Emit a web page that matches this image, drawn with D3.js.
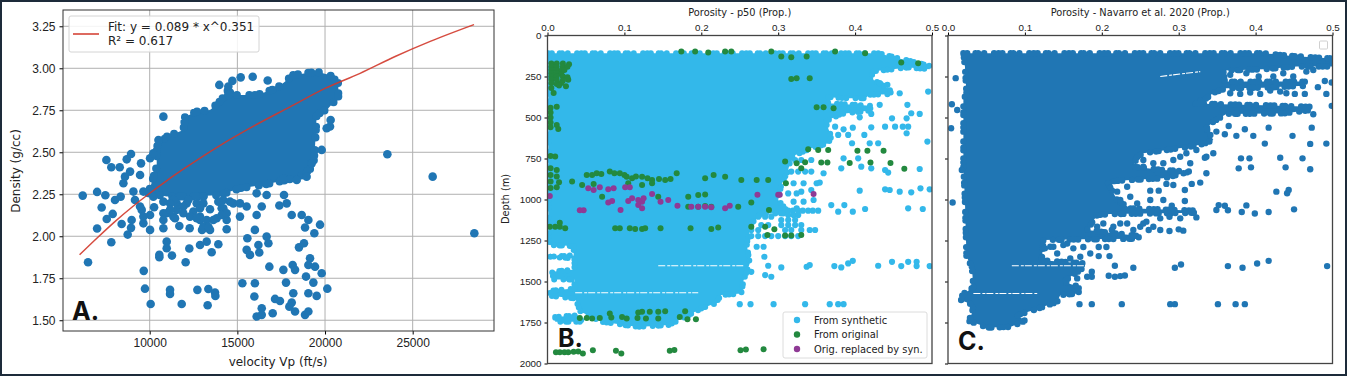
<!DOCTYPE html>
<html>
<head>
<meta charset="utf-8">
<script src="https://cdn.jsdelivr.net/npm/d3@7"></script>
<style>
  html, body { margin: 0; padding: 0; background: #fff; }
  svg { display: block; font-family: "DejaVu Sans", sans-serif; }
  .tick text { fill: #222; }
</style>
</head>
<body>
<div id="chart"></div>
<script>
// ----- Panel A data: [Vp ft/s, density g/cc] -----
const ticksVp = [10000, 15000, 20000, 25000];
const ticksRho = [1.5, 1.75, 2.0, 2.25, 2.5, 2.75, 3.0, 3.25];
const fitVp  = [6000, 7000, 8000, 9000, 10000, 11000, 12000, 14000, 16000, 18000, 20000, 22000, 24000, 26000, 28500];
const fitRho = [1.89, 1.99, 2.086, 2.174, 2.256, 2.333, 2.405, 2.54, 2.66, 2.77, 2.88, 2.97, 3.07, 3.16, 3.26];

// outer edge of the solid part of the cloud, single points are too merged to read there
const cloudA = [[9924,2.256],[10400,2.415],[10400,2.534],[10970,2.593],[11920,2.633],[12015,2.712],[12680,2.742],[13440,2.752],[14105,2.811],[14390,2.871],[14770,2.841],[16100,2.841],[17240,2.881],[18190,2.960],[19525,2.980],[20285,2.960],[20760,2.911],[20760,2.831],[20190,2.762],[19525,2.722],[19430,2.534],[19335,2.415],[18575,2.355],[17815,2.335],[16480,2.306],[15150,2.286],[14010,2.246],[12490,2.236],[10970,2.236]];

const pointsA = [[23555,2.488],[26140,2.355],[28516,2.018],[6180,2.242],[6483,1.845],[7000,2.264],[7470,2.244],[7530,2.454],[7810,2.411],[8290,2.411],[7260,2.171],[7550,2.103],[7890,2.133],[7000,2.046],[7810,1.964],[8400,2.073],[8745,2.01],[8935,2.05],[8970,2.097],[8690,2.458],[8935,2.49],[9505,2.434],[10020,2.464],[10210,2.494],[8590,2.355],[8500,2.316],[8880,2.385],[9450,2.365],[9070,2.266],[9640,2.266],[8020,2.216],[8345,2.236],[9160,2.216],[9545,2.157],[9640,2.077],[10020,2.038],[10020,2.127],[10250,2.173],[10780,2.137],[10780,2.048],[10970,1.968],[10970,1.929],[10550,1.889],[10550,1.875],[11270,1.885],[9660,1.794],[9730,1.688],[10055,1.597],[11160,1.681],[11160,1.657],[11825,1.597],[12050,1.845],[12260,1.927],[11690,2.061],[12280,2.048],[11350,2.117],[11920,2.137],[11540,2.196],[12870,2.117],[12985,2.038],[13440,2.038],[13440,2.161],[13820,2.107],[14390,2.042],[14390,2.097],[14105,2.167],[12870,1.948],[13250,1.968],[13535,1.905],[13915,1.952],[12720,1.681],[13345,1.686],[13725,1.665],[13745,1.645],[13305,1.589],[15285,1.72],[16000,1.72],[15970,1.641],[16390,1.571],[16100,1.522],[16390,1.532],[17015,1.542],[17150,1.627],[17430,1.615],[18100,1.605],[17965,1.581],[18290,1.552],[18860,1.532],[19050,1.552],[18190,1.661],[17775,1.724],[16825,1.819],[17625,1.8],[18155,1.829],[18290,1.8],[18915,1.76],[19335,1.724],[19050,1.661],[19525,1.645],[19810,1.78],[20130,1.688],[19145,1.869],[19050,1.829],[19430,1.819],[18515,1.934],[18800,1.958],[19390,2.018],[19715,2.069],[18860,2.052],[19050,2.097],[18670,2.127],[18100,2.127],[17395,2.183],[17815,2.196],[17660,2.246],[16100,2.256],[16670,2.246],[16390,2.177],[16100,2.127],[15530,2.177],[15150,2.117],[14770,2.196],[16000,2.038],[15570,1.988],[15530,1.919],[15720,1.889],[16250,1.903],[16670,1.998],[16770,1.958],[16200,1.948],[10780,2.712],[13970,2.901],[14485,2.891],[14715,2.925],[15190,2.946],[15875,2.95],[16730,2.927],[14485,2.841],[20285,2.653],[20095,2.643],[20320,2.692],[19810,2.514],[19240,2.434],[18950,2.355],[18385,2.335],[17625,2.345],[10500,2.573],[11350,2.216],[12110,2.196],[12680,2.196],[13060,2.236],[14200,2.216],
  [11160,2.196],[11540,2.157],[11920,2.177],[12205,2.216],[13060,2.196],[12490,2.147],[12870,2.167],[13915,2.206],[14200,2.167],[14580,2.206],[15150,2.196],[10780,2.206],[10210,2.236],[12870,2.097],[10970,2.137],
  [9450,2.177],[9640,2.117],[10780,2.097],[11160,2.157],[11445,2.107],[12300,2.117],[12680,2.107],[13250,2.097],[13630,2.097],[14105,2.127],[14390,2.137],[13060,2.057],[13345,2.057]];

// ----- Panel B data: [porosity, depth m] -----
const ticksPor = [0, 0.1, 0.2, 0.3, 0.4, 0.5];
const ticksDepth = [0, 250, 500, 750, 1000, 1250, 1500, 1750, 2000];

const cloudB = [[0.001,108],[0.430,108],[0.456,138],[0.497,185],[0.497,206],[0.470,195],[0.421,220],[0.424,271],[0.445,328],[0.447,358],[0.419,362],[0.413,383],[0.387,383],[0.365,376],[0.365,413],[0.421,429],[0.419,458],[0.382,478],[0.361,525],[0.365,566],[0.369,617],[0.365,657],[0.343,688],[0.317,739],[0.313,820],[0.304,912],[0.300,1003],[0.309,1054],[0.311,1085],[0.278,1085],[0.265,1146],[0.261,1237],[0.259,1268],[0.263,1390],[0.255,1492],[0.252,1573],[0.226,1583],[0.218,1634],[0.200,1665],[0.175,1726],[0.157,1766],[0.118,1777],[0.071,1746],[0.043,1685],[0.036,1604],[0.006,1589],[0.001,1557],[0.035,1543],[0.035,1488],[0.008,1488],[0.006,1441],[0.035,1427],[0.035,1359],[0.001,1349],[0.034,1341],[0.034,1284],[0.001,1278]];
const cloudB2 = [[0.010,1716],[0.040,1706],[0.045,1746],[0.010,1746]];
const gapsB = [[[0.144,1404],[0.257,1404]],[[0.036,1569],[0.196,1569]]];

const syntheticB = [[0.495,342],[0.432,291],[0.442,301],[0.458,352],[0.432,423],[0.468,423],[0.473,474],[0.484,478],[0.467,505],[0.448,505],[0.421,478],[0.406,499],[0.374,556],[0.385,572],[0.397,562],[0.421,560],[0.439,556],[0.452,556],[0.462,556],[0.469,556],[0.467,596],[0.412,606],[0.391,606],[0.378,606],[0.396,657],[0.419,657],[0.430,657],[0.494,647],[0.385,749],[0.404,749],[0.408,800],[0.421,810],[0.382,810],[0.439,820],[0.443,836],[0.484,814],[0.359,840],[0.350,901],[0.354,897],[0.406,946],[0.439,938],[0.445,942],[0.458,952],[0.473,956],[0.485,932],[0.497,938],[0.330,952],[0.343,942],[0.320,1013],[0.333,1013],[0.346,1003],[0.324,1054],[0.369,1034],[0.386,1034],[0.378,1074],[0.397,1074],[0.413,1058],[0.469,1054],[0.488,1058],[0.272,1288],[0.281,1288],[0.282,1349],[0.287,1404],[0.304,1414],[0.337,1410],[0.341,1400],[0.373,1406],[0.382,1414],[0.391,1390],[0.397,1374],[0.430,1404],[0.448,1380],[0.460,1406],[0.469,1380],[0.480,1380],[0.480,1406],[0.497,1406],[0.265,1441],[0.283,1461],[0.291,1471],[0.250,1638],[0.264,1638],[0.294,1638],[0.335,1638],[0.367,1638],[0.378,1638],[0.385,1638],
  // rows around 1050-1250 m and the patches under the edge at 750-950 m
  [0.313,1068],[0.319,1068],[0.326,1068],[0.332,1068],[0.339,1068],[0.345,1068],[0.352,1068],[0.313,1095],[0.320,1095],[0.326,1095],[0.304,1125],[0.313,1125],[0.322,1125],[0.278,1156],[0.287,1156],[0.304,1156],[0.313,1156],[0.322,1156],[0.330,1156],[0.309,1186],[0.317,1186],[0.330,1186],[0.341,1186],[0.348,1186],[0.265,1223],[0.274,1223],[0.283,1223],[0.291,1223],[0.300,1223],[0.309,1223],[0.317,1223],[0.326,1223],[0.274,1105],[0.283,1105],[0.291,1105],[0.265,1186],[0.274,1186],[0.317,830],[0.326,830],[0.335,830],[0.343,830],[0.322,759],[0.330,759],[0.343,759],[0.320,901],[0.333,901],[0.313,963],[0.324,963]];

const originalB = [[0.005,170],[0.012,170],[0.020,170],[0.028,175],[0.005,190],[0.012,190],[0.020,190],[0.026,190],[0.005,210],[0.012,210],[0.018,215],[0.022,210],[0.005,230],[0.012,230],[0.018,235],[0.005,250],[0.012,250],[0.020,250],[0.026,255],[0.005,270],[0.012,270],[0.020,275],[0.027,270],[0.005,290],[0.012,295],[0.018,290],[0.015,305],[0.024,310],[0.005,320],[0.008,350],[0.004,440],[0.012,435],[0.004,470],[0.004,500],[0.004,530],[0.012,545],[0.004,560],[0.014,570],[0.004,735],[0.010,738],[0.004,810],[0.012,820],[0.004,850],[0.012,860],[0.004,890],[0.015,895],[0.004,930],[0.012,925],
  [0.051,851],[0.058,851],[0.064,840],[0.070,845],[0.081,830],[0.087,840],[0.094,840],[0.100,850],[0.103,861],[0.110,871],[0.115,860],[0.123,861],[0.130,870],[0.136,881],[0.145,875],[0.153,881],[0.160,875],[0.168,840],[0.205,871],[0.216,851],[0.231,861],[0.252,881],[0.272,881],[0.287,881],[0.310,901],[0.032,891],[0.045,912],[0.060,905],[0.105,901],[0.123,912],[0.136,901],[0.071,983],[0.144,983],[0.183,983],[0.196,973],[0.205,969],[0.339,694],[0.352,698],[0.365,698],[0.403,702],[0.416,702],[0.437,702],[0.324,779],[0.335,773],[0.356,775],[0.364,775],[0.393,777],[0.420,775],[0.446,777],[0.464,812],[0.330,810],[0.309,769],[0.324,260],[0.341,260],[0.317,265],[0.350,438],[0.359,438],[0.372,444],[0.460,165],[0.482,169],[0.174,98],[0.192,98],[0.209,104],[0.231,98],[0.239,98],[0.291,98],[0.304,128],[0.317,132],[0.337,128],[0.374,98],[0.413,108],
  [0.088,1176],[0.094,1176],[0.107,1176],[0.114,1180],[0.123,1180],[0.127,1176],[0.147,1176],[0.186,1176],[0.213,1180],[0.222,1170],[0.265,1166],[0.283,1166],[0.295,1182],[0.286,1217],[0.309,1219],[0.317,1219],[0.330,1217],[0.248,1044],[0.265,1018],[0.288,1064],[0.196,1044],[0.205,1040],[0.213,1044],[0.183,1044],[0.003,1166],[0.010,1166],[0.016,1166],[0.023,1176],[0.016,1142],
  [0.042,1722],[0.051,1722],[0.058,1726],[0.068,1722],[0.081,1695],[0.083,1720],[0.097,1716],[0.103,1726],[0.118,1689],[0.117,1722],[0.123,1685],[0.128,1726],[0.133,1685],[0.144,1685],[0.144,1726],[0.153,1681],[0.172,1716],[0.179,1681],[0.182,1730],[0.193,1730],
  [0.011,1931],[0.016,1931],[0.022,1931],[0.027,1931],[0.034,1929],[0.040,1927],[0.046,1939],[0.059,1919],[0.089,1923],[0.096,1939],[0.159,1923],[0.165,1917],[0.251,1919],[0.258,1915],[0.281,1913]];

const replacedB = [[0.003,979],[0.053,932],[0.060,942],[0.068,926],[0.079,938],[0.086,932],[0.101,926],[0.107,926],[0.136,967],[0.079,1018],[0.084,1009],[0.095,1064],[0.105,1009],[0.110,993],[0.118,1003],[0.123,1013],[0.125,993],[0.118,1034],[0.123,1054],[0.147,1013],[0.157,1003],[0.169,1038],[0.187,1044],[0.196,1044],[0.205,1044],[0.213,1048],[0.231,1054],[0.237,1038],[0.273,971],[0.300,971],[0.302,971],[0.346,967],[0.047,1066],[0.042,1066]];

// ----- Panel C data: [porosity, depth m] -----
const cloudC = [[0.020,108],[0.310,108],[0.410,108],[0.447,125],[0.500,140],[0.500,189],[0.453,189],[0.410,206],[0.358,214],[0.360,281],[0.464,281],[0.464,307],[0.410,318],[0.362,322],[0.345,350],[0.336,383],[0.319,415],[0.410,425],[0.473,435],[0.471,455],[0.436,475],[0.362,478],[0.345,525],[0.336,566],[0.345,637],[0.332,661],[0.315,678],[0.254,718],[0.246,739],[0.241,800],[0.280,820],[0.315,830],[0.280,871],[0.237,881],[0.207,891],[0.220,1003],[0.237,1054],[0.323,1068],[0.323,1081],[0.211,1089],[0.194,1095],[0.181,1186],[0.248,1223],[0.248,1239],[0.176,1243],[0.124,1247],[0.122,1370],[0.178,1390],[0.178,1410],[0.150,1502],[0.170,1532],[0.170,1573],[0.146,1583],[0.142,1624],[0.111,1675],[0.090,1705],[0.100,1740],[0.081,1777],[0.051,1781],[0.027,1740],[0.031,1695],[0.033,1644],[0.017,1614],[0.019,1577],[0.033,1536],[0.031,1410],[0.024,1349],[0.022,1003],[0.020,800],[0.020,393],[0.024,352],[0.022,189]];
const gapsC = [[[0.033,1573],[0.116,1573]],[[0.083,1404],[0.181,1404]],[[0.276,250],[0.328,220]]];

const pointsC = [[0.010,260],[0.005,419],[0.012,454],[0.004,566],[0.006,1018],[0.018,820],[0.499,287],[0.481,315],[0.490,277],[0.492,356],[0.464,356],[0.451,356],[0.499,429],[0.475,480],[0.473,562],[0.365,552],[0.386,572],[0.417,562],[0.375,612],[0.397,612],[0.360,602],[0.349,586],[0.448,612],[0.412,659],[0.471,661],[0.492,659],[0.461,749],[0.432,745],[0.381,749],[0.392,749],[0.345,718],[0.334,745],[0.378,810],[0.394,804],[0.439,804],[0.471,816],[0.336,840],[0.328,897],[0.317,905],[0.427,952],[0.443,942],[0.441,962],[0.308,1009],[0.308,942],[0.293,912],[0.280,1003],[0.291,1038],[0.263,946],[0.274,946],[0.284,905],[0.263,1003],[0.349,1064],[0.352,1034],[0.360,1038],[0.364,1066],[0.382,1076],[0.388,1036],[0.399,1085],[0.417,1076],[0.450,1060],[0.323,1109],[0.302,1115],[0.288,1105],[0.276,1115],[0.306,1190],[0.300,1182],[0.288,1192],[0.258,1135],[0.250,1166],[0.261,1186],[0.215,1166],[0.224,1146],[0.206,1290],[0.196,1290],[0.176,1290],[0.185,1329],[0.196,1345],[0.210,1345],[0.217,1404],[0.241,1416],[0.295,1416],[0.303,1396],[0.364,1406],[0.383,1416],[0.402,1390],[0.417,1374],[0.493,1406],[0.187,1441],[0.187,1471],[0.209,1465],[0.217,1471],[0.224,1467],[0.230,1463],[0.171,1638],[0.187,1638],[0.226,1638],[0.289,1638],[0.295,1638],[0.351,1638],[0.374,1638],[0.386,1638],[0.181,1471],[0.168,1481],[0.155,1268],[0.137,1288],[0.126,1298],
  // loose points next to the solid part
  [0.211,928],[0.220,952],[0.233,922],[0.237,983],[0.224,1003],[0.246,1024],[0.254,759],[0.267,779],[0.280,779],[0.293,759],[0.302,739],[0.315,779],[0.254,800],[0.323,698],[0.310,718],[0.336,739],[0.194,1166],[0.202,1146],[0.213,1186],[0.233,1146],[0.241,1186],[0.254,1146],[0.267,1166],[0.276,1186],[0.133,1288],[0.150,1278],[0.163,1298],[0.142,1329],[0.159,1359],[0.172,1349],[0.367,240],[0.388,230],[0.404,250],[0.423,250],[0.436,230],[0.449,250],[0.466,220],[0.475,210],[0.419,336],[0.432,342],[0.440,352],[0.367,352],[0.380,356],[0.393,348],[0.406,356]];

const legendB = [
  { label: "From synthetic", color: "#33b8ea" },
  { label: "From original", color: "#23893f" },
  { label: "Orig. replaced by syn.", color: "#8f3a95" }
];

// ----- Setup -----
const W = 1347, H = 377;
const BLUE = "#2076b4";
const svg = d3.select("#chart").append("svg").attr("width", W).attr("height", H);

// panel frames in px
const boxA = { l: 63, r: 494, t: 10, b: 331 };
const boxB = { l: 547.5, r: 932, t: 35.5, b: 363.5 };
const boxC = { l: 948, r: 1332.5, t: 35.5, b: 363.5 };

svg.append("rect").attr("x", 1).attr("y", 1).attr("width", W - 2).attr("height", H - 3)
  .attr("fill", "#fff").attr("stroke", "#1d2b3a").attr("stroke-width", 2);

function clipFor(id, b) {
  svg.append("clipPath").attr("id", id).append("rect")
    .attr("x", b.l).attr("y", b.t).attr("width", b.r - b.l).attr("height", b.b - b.t);
}

function drawDots(g, pts, x, y, r, color) {
  g.selectAll(null).data(pts).enter().append("circle")
    .attr("cx", d => x(d[0])).attr("cy", d => y(d[1])).attr("r", r).attr("fill", color);
}

// solid area with an uneven beaded edge so the rim reads as merged dots
function drawCloud(g, poly, x, y, color, r) {
  const line = d3.line().x(d => x(d[0])).y(d => y(d[1]));
  g.append("path").attr("d", line(poly) + "Z")
    .attr("fill", color).attr("stroke", color)
    .attr("stroke-width", r * 2).attr("stroke-linecap", "round")
    .attr("stroke-dasharray", `0 ${r * 1.2} 0 ${r * 2.6} 0 ${r * 0.8} 0 ${r * 1.9} 0 ${r * 3.1} 0 ${r * 1.4}`);
}

function drawGaps(g, gaps, x, y) {
  const line = d3.line().x(d => x(d[0])).y(d => y(d[1]));
  gaps.forEach(s => {
    g.append("path").attr("d", line(s)).attr("stroke", "#fff").attr("stroke-width", 1.1)
      .attr("stroke-dasharray", "7 2 3 1").attr("fill", "none");
  });
}

function frame(b, color, sw) {
  svg.append("rect").attr("x", b.l).attr("y", b.t).attr("width", b.r - b.l).attr("height", b.b - b.t)
    .attr("fill", "none").attr("stroke", color).attr("stroke-width", sw);
}

// ----- Panel A -----
const xA = d3.scaleLinear().domain([5055, 29638]).range([boxA.l, boxA.r]);
const yA = d3.scaleLinear().domain([1.436, 3.347]).range([boxA.b, boxA.t]);
clipFor("clipA", boxA);

const gridA = svg.append("g").attr("stroke", "#b0b0b0").attr("stroke-width", 1);
ticksVp.forEach(v => gridA.append("line").attr("x1", xA(v)).attr("x2", xA(v)).attr("y1", boxA.t).attr("y2", boxA.b));
ticksRho.forEach(v => gridA.append("line").attr("x1", boxA.l).attr("x2", boxA.r).attr("y1", yA(v)).attr("y2", yA(v)));

const plotA = svg.append("g").attr("clip-path", "url(#clipA)");
drawCloud(plotA, cloudA, xA, yA, BLUE, 4);
drawDots(plotA, pointsA, xA, yA, 4.3, BLUE);

const fitLine = d3.line().x((d, i) => xA(fitVp[i])).y(d => yA(d)).curve(d3.curveMonotoneX);
plotA.append("path").attr("d", fitLine(fitRho)).attr("fill", "none")
  .attr("stroke", "#d2392b").attr("stroke-opacity", 0.9).attr("stroke-width", 1.5);

const axisBottomA = d3.axisBottom(xA).tickValues(ticksVp).tickFormat(d3.format("d")).tickSize(3.5).tickPadding(4);
svg.append("g").attr("transform", `translate(0,${boxA.b})`).call(axisBottomA)
  .call(g => g.select(".domain").remove())
  .selectAll("text").attr("font-size", 12);
const axisLeftA = d3.axisLeft(yA).tickValues(ticksRho).tickFormat(d3.format(".2f")).tickSize(3.5).tickPadding(4);
svg.append("g").attr("transform", `translate(${boxA.l},0)`).call(axisLeftA)
  .call(g => g.select(".domain").remove())
  .selectAll("text").attr("font-size", 12);
frame(boxA, "#333", 1);

svg.append("text").attr("x", 278).attr("y", 366).attr("text-anchor", "middle")
  .attr("font-size", 12).attr("fill", "#222").text("velocity Vp (ft/s)");
svg.append("text").attr("transform", "translate(20,171) rotate(-90)").attr("text-anchor", "middle")
  .attr("font-size", 12).attr("fill", "#222").text("Density (g/cc)");

// legend A
svg.append("rect").attr("x", 69).attr("y", 16).attr("width", 190).attr("height", 36).attr("rx", 2)
  .attr("fill", "#fff").attr("fill-opacity", 0.85).attr("stroke", "#d4d4d4");
svg.append("line").attr("x1", 73).attr("x2", 99).attr("y1", 34).attr("y2", 34)
  .attr("stroke", "#d2392b").attr("stroke-width", 1.5);
svg.append("text").attr("x", 108).attr("y", 31).attr("font-size", 12).attr("fill", "#222").text("Fit: y = 0.089 * x^0.351");
svg.append("text").attr("x", 108).attr("y", 44.5).attr("font-size", 12).attr("fill", "#222").text("R² = 0.617");

// ----- Panels B, C shared axes -----
function depthPanel(b, title, withDepthLabels) {
  const x = d3.scaleLinear().domain([0, 0.5]).range([b.l, b.r]);
  const y = d3.scaleLinear().domain([0, 2000]).range([b.t, b.b]);
  const top = d3.axisTop(x).tickValues(ticksPor).tickFormat(d3.format(".1f")).tickSize(3).tickPadding(2);
  const left = d3.axisLeft(y).tickValues(ticksDepth).tickSize(3).tickPadding(3)
    .tickFormat(withDepthLabels ? d3.format("d") : "");
  svg.append("text").attr("x", (b.l + b.r) / 2).attr("y", 15.5).attr("text-anchor", "middle")
    .attr("font-size", 9.8).attr("fill", "#222").text(title);
  return { x, y, top, left };
}

function finishPanel(b, p) {
  svg.append("g").attr("transform", `translate(0,${b.t})`).call(p.top)
    .call(g => g.select(".domain").remove())
    .selectAll("text").attr("font-size", 9.8);
  svg.append("g").attr("transform", `translate(${b.l},0)`).call(p.left)
    .call(g => g.select(".domain").remove())
    .selectAll("text").attr("font-size", 9.8);
  frame(b, "#444", 1.3);
}

// ----- Panel B -----
const pB = depthPanel(boxB, "Porosity - p50 (Prop.)", true);
clipFor("clipB", boxB);
const plotB = svg.append("g").attr("clip-path", "url(#clipB)");
drawCloud(plotB, cloudB, pB.x, pB.y, legendB[0].color, 3);
drawCloud(plotB, cloudB2, pB.x, pB.y, legendB[0].color, 3);
drawGaps(plotB, gapsB, pB.x, pB.y);
drawDots(plotB, syntheticB, pB.x, pB.y, 3.1, legendB[0].color);
drawDots(plotB, originalB, pB.x, pB.y, 3, legendB[1].color);
drawDots(plotB, replacedB, pB.x, pB.y, 3, legendB[2].color);
finishPanel(boxB, pB);

svg.append("text").attr("transform", "translate(509,199) rotate(-90)").attr("text-anchor", "middle")
  .attr("font-size", 9.8).attr("fill", "#222").text("Depth (m)");

// legend B
svg.append("rect").attr("x", 783).attr("y", 312).attr("width", 144).attr("height", 46).attr("rx", 2)
  .attr("fill", "#fff").attr("stroke", "#dcdcdc");
const legRow = d3.scalePoint().domain(legendB.map(d => d.label)).range([320, 349]);
legendB.forEach(d => {
  svg.append("circle").attr("cx", 797).attr("cy", legRow(d.label)).attr("r", 3.2).attr("fill", d.color);
  svg.append("text").attr("x", 814).attr("y", legRow(d.label) + 3.5)
    .attr("font-size", 9.9).attr("fill", "#222").text(d.label);
});

// ----- Panel C -----
const pC = depthPanel(boxC, "Porosity - Navarro et al. 2020 (Prop.)", false);
clipFor("clipC", boxC);
const plotC = svg.append("g").attr("clip-path", "url(#clipC)");
drawCloud(plotC, cloudC, pC.x, pC.y, BLUE, 3.2);
drawGaps(plotC, gapsC, pC.x, pC.y);
drawDots(plotC, pointsC, pC.x, pC.y, 3.2, BLUE);
finishPanel(boxC, pC);

// empty legend box left in the original
svg.append("rect").attr("x", 1319.5).attr("y", 41).attr("width", 8).attr("height", 8).attr("rx", 1)
  .attr("fill", "#fff").attr("stroke", "#d0d0d0");

// ----- Panel letters -----
const letters = [["A.", 72, 320], ["B.", 558, 346.5], ["C.", 958, 350]];
letters.forEach(d => {
  svg.append("text").attr("x", d[1]).attr("y", d[2]).attr("font-family", "Inter, sans-serif")
    .attr("font-weight", 700).attr("font-size", 25).attr("fill", "#111").text(d[0]);
});
</script>
</body>
</html>
